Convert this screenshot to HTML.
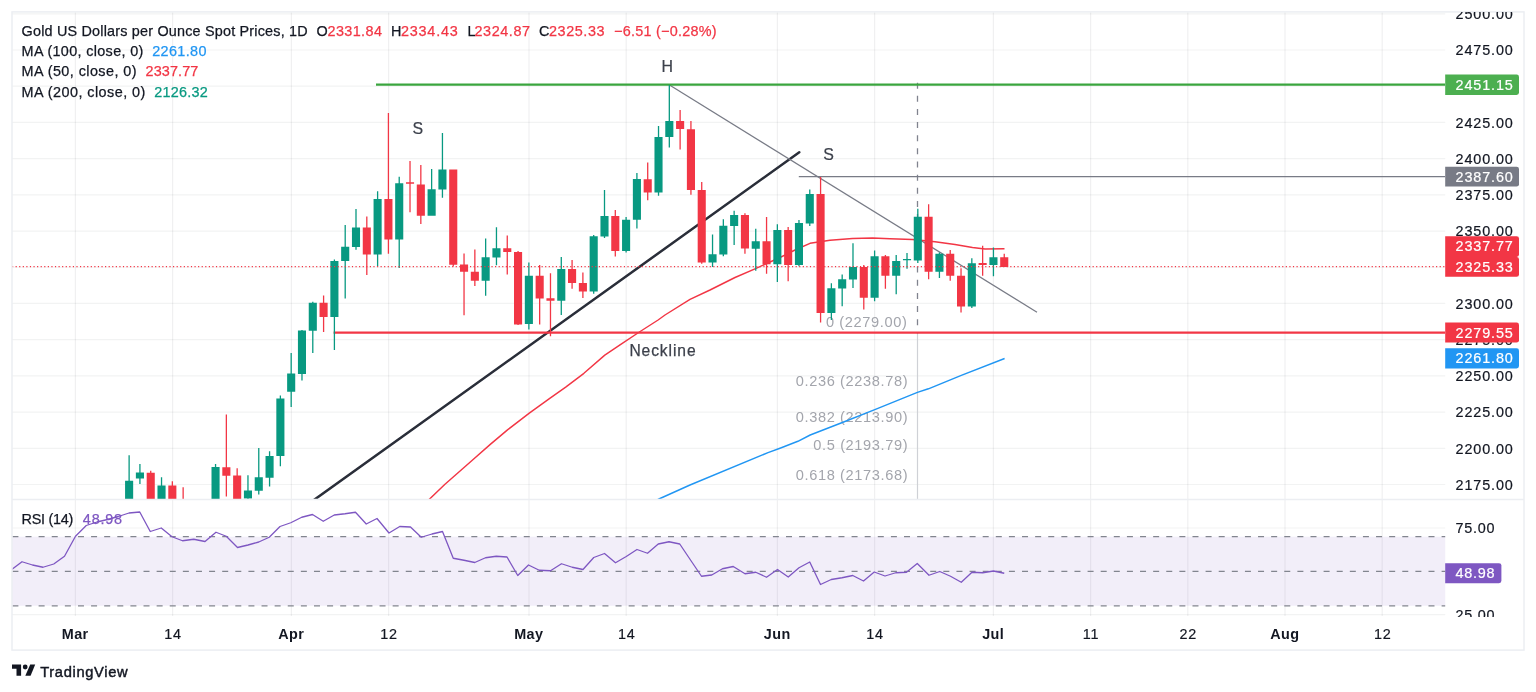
<!DOCTYPE html>
<html><head><meta charset="utf-8"><title>Gold chart</title>
<style>html,body{margin:0;padding:0;background:#fff;}svg{display:block;will-change:transform;}text{font-family:'Liberation Sans', sans-serif;}</style></head><body>
<svg width="1536" height="692" viewBox="0 0 1536 692">
<rect x="0" y="0" width="1536" height="692" fill="#ffffff"/>
<defs>
<clipPath id="cm"><rect x="12.00" y="11.90" width="1433.20" height="487.60"/></clipPath>
<clipPath id="cr"><rect x="12.00" y="499.50" width="1433.20" height="116.10"/></clipPath>
<clipPath id="cs"><rect x="1445.20" y="12.10" width="78.80" height="487.60"/></clipPath>
<clipPath id="cs2"><rect x="1445.20" y="499.50" width="78.80" height="117.50"/></clipPath>
</defs>
<path d="M75.40 11.90V615.90M172.60 11.90V615.90M291.40 11.90V615.90M388.60 11.90V615.90M529.00 11.90V615.90M626.20 11.90V615.90M777.40 11.90V615.90M874.60 11.90V615.90M993.40 11.90V615.90M1090.60 11.90V615.90M1187.80 11.90V615.90M1285.00 11.90V615.90M1382.20 11.90V615.90" stroke="#2a2e39" stroke-opacity="0.07" stroke-width="1.2" fill="none"/>
<path d="M12.00 484.49H1445.20M12.00 448.28H1445.20M12.00 412.07H1445.20M12.00 375.87H1445.20M12.00 339.66H1445.20M12.00 303.45H1445.20M12.00 267.25H1445.20M12.00 231.04H1445.20M12.00 194.83H1445.20M12.00 158.62H1445.20M12.00 122.41H1445.20M12.00 86.21H1445.20M12.00 50.00H1445.20M12.00 13.79H1445.20M12.00 528.00H1445.20M12.00 614.60H1445.20" stroke="#2a2e39" stroke-opacity="0.06" stroke-width="1.2" fill="none"/>
<rect x="12.00" y="536.70" width="1433.20" height="69.10" fill="#7e57c2" fill-opacity="0.1"/>
<path d="M12.40 536.70H1445.20" stroke="#82858f" stroke-width="1.3" stroke-dasharray="6 7.112" fill="none"/>
<path d="M12.40 571.30H1445.20" stroke="#82858f" stroke-width="1.3" stroke-dasharray="6 7.112" fill="none"/>
<path d="M12.40 605.80H1445.20" stroke="#82858f" stroke-width="1.3" stroke-dasharray="6 7.112" fill="none"/>
<g clip-path="url(#cm)">
<path d="M917.5 333V500" stroke="#cfd1d6" stroke-width="1.2" fill="none"/>
<path d="M917.5 82.65V333.6" stroke="#80838e" stroke-width="1.3" stroke-dasharray="6 7.14" fill="none"/>
<text x="907.40" y="327.40" font-size="14.6" fill="#a3a5ac" text-anchor="end" letter-spacing="0.62">0 (2279.00)</text>
<text x="908.20" y="385.50" font-size="14.6" fill="#a3a5ac" text-anchor="end" letter-spacing="0.62">0.236 (2238.78)</text>
<text x="908.20" y="421.70" font-size="14.6" fill="#a3a5ac" text-anchor="end" letter-spacing="0.62">0.382 (2213.90)</text>
<text x="908.20" y="450.40" font-size="14.6" fill="#a3a5ac" text-anchor="end" letter-spacing="0.62">0.5 (2193.79)</text>
<text x="908.20" y="479.50" font-size="14.6" fill="#a3a5ac" text-anchor="end" letter-spacing="0.62">0.618 (2173.68)</text>
<path d="M313.5 500.3L799.3 152.3" stroke="#2a2e39" stroke-width="2.5" stroke-linecap="round" fill="none"/>
<path d="M669.5 85L1037 312.3" stroke="#787b86" stroke-width="1.3" fill="none"/>
<path d="M376 84.6H1445.20" stroke="#3aa53e" stroke-width="2.4" fill="none"/>
<path d="M798.8 176.7H1445.20" stroke="#787b86" stroke-width="1.2" fill="none"/>
<path d="M333.6 332.6H1445.20" stroke="#f23645" stroke-width="2.4" fill="none"/>
<polyline points="655.00,501.00 660.00,498.50 690.00,485.00 768.00,452.60 780.00,448.20 797.90,441.30 810.20,435.00 843.00,422.30 874.80,409.70 917.40,392.40 928.40,388.80 961.30,375.40 1004.60,358.50" stroke="#2196f3" stroke-width="1.45" fill="none" stroke-linejoin="round"/>
<polyline points="425.00,503.50 429.10,499.50 444.70,484.50 472.00,460.50 490.30,444.40 507.20,430.10 529.30,413.20 550.10,398.10 565.70,387.10 583.90,373.30 604.80,355.10 620.40,344.70 638.60,332.50 658.10,320.00 665.00,315.00 690.00,299.30 710.00,290.00 735.00,277.50 755.00,268.80 780.00,257.50 795.00,250.00 810.00,243.30 830.00,240.30 852.50,238.50 872.50,238.00 890.00,238.70 912.50,239.50 935.00,241.80 955.00,244.50 972.50,247.50 985.00,249.00 1004.50,248.80" stroke="#f23645" stroke-width="1.45" fill="none" stroke-linejoin="round"/>
<path d="M125.07 480.75h8.10v29.25h-8.10zM128.47 455.25h1.30v54.75h-1.30zM135.87 472.50h8.10v6.00h-8.10zM139.27 464.00h1.30v20.00h-1.30zM157.48 485.50h8.10v24.50h-8.10zM160.88 477.25h1.30v32.75h-1.30zM211.50 467.00h8.10v43.00h-8.10zM214.90 464.00h1.30v46.00h-1.30zM243.91 490.50h8.10v8.00h-8.10zM247.31 475.25h1.30v34.75h-1.30zM254.72 477.25h8.10v13.50h-8.10zM258.12 448.00h1.30v46.50h-1.30zM265.52 456.00h8.10v21.75h-8.10zM268.92 451.25h1.30v35.25h-1.30zM276.33 398.50h8.10v57.50h-8.10zM279.73 395.50h1.30v70.75h-1.30zM287.13 373.50h8.10v18.25h-8.10zM290.53 353.00h1.30v54.00h-1.30zM297.93 330.50h8.10v43.50h-8.10zM301.33 330.00h1.30v50.50h-1.30zM308.74 302.75h8.10v28.00h-8.10zM312.14 301.75h1.30v51.25h-1.30zM330.35 261.00h8.10v56.00h-8.10zM333.75 259.50h1.30v90.50h-1.30zM341.15 246.75h8.10v14.25h-8.10zM344.55 225.00h1.30v73.50h-1.30zM351.95 227.50h8.10v19.50h-8.10zM355.35 209.00h1.30v40.75h-1.30zM373.56 199.00h8.10v55.50h-8.10zM376.96 191.25h1.30v75.00h-1.30zM395.17 183.25h8.10v56.25h-8.10zM398.57 176.75h1.30v91.25h-1.30zM427.58 189.25h8.10v26.50h-8.10zM430.98 169.00h1.30v46.75h-1.30zM438.39 169.50h8.10v20.00h-8.10zM441.79 133.00h1.30v64.75h-1.30zM481.60 257.25h8.10v23.50h-8.10zM485.00 238.50h1.30v57.25h-1.30zM492.41 248.25h8.10v9.25h-8.10zM495.81 227.25h1.30v38.00h-1.30zM524.82 275.75h8.10v48.25h-8.10zM528.22 262.50h1.30v67.00h-1.30zM557.23 269.00h8.10v31.75h-8.10zM560.63 257.00h1.30v58.00h-1.30zM589.64 236.25h8.10v55.25h-8.10zM593.04 235.00h1.30v58.75h-1.30zM600.45 216.00h8.10v20.50h-8.10zM603.85 190.00h1.30v48.00h-1.30zM622.05 219.75h8.10v31.25h-8.10zM625.45 217.00h1.30v35.50h-1.30zM632.86 179.00h8.10v40.75h-8.10zM636.26 173.00h1.30v55.50h-1.30zM654.47 137.00h8.10v55.50h-8.10zM657.87 126.00h1.30v69.75h-1.30zM665.27 121.00h8.10v16.00h-8.10zM668.67 85.00h1.30v62.50h-1.30zM708.49 254.25h8.10v8.25h-8.10zM711.89 234.50h1.30v32.50h-1.30zM719.29 225.75h8.10v28.75h-8.10zM722.69 219.25h1.30v37.00h-1.30zM730.09 215.00h8.10v11.00h-8.10zM733.49 210.75h1.30v34.25h-1.30zM751.70 241.25h8.10v7.50h-8.10zM755.10 228.75h1.30v42.00h-1.30zM773.31 230.00h8.10v34.25h-8.10zM776.71 224.25h1.30v57.75h-1.30zM794.92 223.00h8.10v42.00h-8.10zM798.32 220.00h1.30v46.25h-1.30zM805.72 194.00h8.10v29.50h-8.10zM809.12 189.50h1.30v36.50h-1.30zM827.33 288.25h8.10v24.75h-8.10zM830.73 283.25h1.30v36.75h-1.30zM838.13 279.25h8.10v9.25h-8.10zM841.53 274.50h1.30v31.75h-1.30zM848.94 267.00h8.10v12.50h-8.10zM852.34 243.25h1.30v44.75h-1.30zM870.55 256.25h8.10v41.50h-8.10zM873.95 250.50h1.30v50.75h-1.30zM892.15 261.00h8.10v14.75h-8.10zM895.55 255.00h1.30v39.25h-1.30zM902.96 259.00h8.10v1.25h-8.10zM906.36 253.00h1.30v15.75h-1.30zM913.76 216.75h8.10v43.75h-8.10zM917.16 208.75h1.30v54.25h-1.30zM935.37 253.75h8.10v18.00h-8.10zM938.77 252.50h1.30v25.50h-1.30zM967.78 263.25h8.10v43.25h-8.10zM971.18 258.25h1.30v49.75h-1.30zM989.39 257.25h8.10v7.75h-8.10zM992.79 247.50h1.30v28.75h-1.30z" fill="#089981"/>
<path d="M146.68 472.75h8.10v37.25h-8.10zM150.08 470.75h1.30v39.25h-1.30zM168.29 485.50h8.10v24.50h-8.10zM171.69 481.25h1.30v28.75h-1.30zM179.09 505.00h8.10v5.00h-8.10zM182.49 487.25h1.30v22.75h-1.30zM222.31 467.25h8.10v8.50h-8.10zM225.71 414.50h1.30v82.00h-1.30zM233.11 475.50h8.10v34.50h-8.10zM236.51 468.25h1.30v41.75h-1.30zM319.54 302.75h8.10v14.25h-8.10zM322.94 295.50h1.30v36.50h-1.30zM362.76 227.50h8.10v27.00h-8.10zM366.16 216.50h1.30v58.50h-1.30zM384.37 199.00h8.10v40.50h-8.10zM387.77 113.00h1.30v140.75h-1.30zM405.97 182.25h8.10v1.50h-8.10zM409.37 161.00h1.30v51.25h-1.30zM416.78 184.50h8.10v31.25h-8.10zM420.18 165.00h1.30v59.00h-1.30zM449.19 169.50h8.10v95.25h-8.10zM452.59 169.50h1.30v97.00h-1.30zM459.99 264.50h8.10v7.25h-8.10zM463.39 253.50h1.30v61.75h-1.30zM470.80 271.75h8.10v9.00h-8.10zM474.20 249.50h1.30v36.50h-1.30zM503.21 248.25h8.10v3.75h-8.10zM506.61 235.50h1.30v39.00h-1.30zM514.01 252.00h8.10v72.50h-8.10zM517.41 251.00h1.30v74.00h-1.30zM535.62 275.75h8.10v22.75h-8.10zM539.02 265.00h1.30v59.50h-1.30zM546.43 298.25h8.10v2.50h-8.10zM549.83 273.25h1.30v63.00h-1.30zM568.03 269.00h8.10v14.00h-8.10zM571.43 260.00h1.30v28.75h-1.30zM578.84 283.00h8.10v8.50h-8.10zM582.24 272.50h1.30v25.50h-1.30zM611.25 216.00h8.10v35.00h-8.10zM614.65 210.00h1.30v46.50h-1.30zM643.66 179.25h8.10v13.25h-8.10zM647.06 162.50h1.30v37.75h-1.30zM676.07 121.00h8.10v8.00h-8.10zM679.47 110.00h1.30v39.50h-1.30zM686.88 129.25h8.10v60.75h-8.10zM690.28 121.00h1.30v73.75h-1.30zM697.68 190.00h8.10v72.50h-8.10zM701.08 182.00h1.30v81.75h-1.30zM740.90 215.00h8.10v33.50h-8.10zM744.30 213.25h1.30v40.50h-1.30zM762.51 241.25h8.10v23.00h-8.10zM765.91 217.00h1.30v56.75h-1.30zM784.11 230.00h8.10v35.00h-8.10zM787.51 227.00h1.30v54.25h-1.30zM816.53 194.00h8.10v119.00h-8.10zM819.93 177.00h1.30v145.50h-1.30zM859.74 267.00h8.10v30.75h-8.10zM863.14 265.00h1.30v44.50h-1.30zM881.35 256.25h8.10v19.50h-8.10zM884.75 255.00h1.30v33.75h-1.30zM924.57 216.75h8.10v55.00h-8.10zM927.97 204.25h1.30v75.00h-1.30zM946.17 253.75h8.10v22.00h-8.10zM949.57 250.00h1.30v30.75h-1.30zM956.98 275.75h8.10v30.75h-8.10zM960.38 268.25h1.30v44.25h-1.30zM978.59 263.00h8.10v2.00h-8.10zM981.99 245.75h1.30v30.00h-1.30zM1000.19 257.25h8.10v9.75h-8.10zM1003.59 253.75h1.30v13.25h-1.30z" fill="#f23645"/>
<path d="M12.00 266.6H1445.20" stroke="#f23645" stroke-width="1.2" stroke-dasharray="1.19 2.388" fill="none"/>
<text x="417.8" y="133.9" font-size="15.9" fill="#3c404b" stroke="#3c404b" stroke-width="0.2" text-anchor="middle">S</text>
<text x="667.3" y="72.1" font-size="15.9" fill="#3c404b" stroke="#3c404b" stroke-width="0.2" text-anchor="middle">H</text>
<text x="828.6" y="159.8" font-size="15.9" fill="#3c404b" stroke="#3c404b" stroke-width="0.2" text-anchor="middle">S</text>
<text x="629.4" y="355.7" font-size="15.6" fill="#3c404b" stroke="#3c404b" stroke-width="0.25" textLength="66.2" lengthAdjust="spacing">Neckline</text>
</g>
<polyline clip-path="url(#cr)" points="11.75,569.50 22.00,561.75 32.50,565.00 43.00,567.25 53.75,564.00 64.50,556.25 75.50,536.25 86.25,525.50 97.00,522.00 107.50,519.50 118.25,516.50 129.00,513.00 139.75,512.00 150.25,531.50 161.25,528.00 172.00,536.75 182.50,540.75 193.75,539.25 205.00,541.50 216.00,532.25 226.25,536.25 237.50,547.50 248.00,545.00 258.75,542.00 269.25,537.25 280.00,526.50 290.75,522.75 301.75,517.25 312.50,514.50 323.25,521.25 334.25,515.00 345.00,513.75 355.50,512.25 366.25,524.00 377.00,518.50 389.00,533.00 399.75,526.50 410.50,527.00 421.25,537.25 432.00,534.00 442.50,531.50 453.25,558.25 464.00,560.25 474.75,562.50 485.50,557.75 496.25,556.25 507.00,557.00 517.75,575.50 528.50,565.00 539.25,570.25 550.50,570.75 561.50,563.75 572.25,567.25 583.00,569.50 593.75,557.50 604.50,553.50 615.50,562.75 626.25,556.50 637.00,549.50 647.50,553.25 658.25,544.00 669.00,541.75 679.75,544.00 690.50,560.00 701.50,576.25 711.75,575.00 722.50,568.75 733.25,566.50 745.00,573.75 755.75,572.25 766.50,577.25 777.50,569.50 788.25,577.00 799.00,567.75 809.75,562.00 820.50,584.50 831.25,579.50 842.00,577.75 852.75,575.50 863.50,581.00 874.25,572.00 885.00,576.00 895.75,572.75 906.50,572.25 917.25,563.50 929.00,575.25 939.75,571.50 950.50,576.25 961.25,582.25 972.00,572.25 982.75,572.75 993.50,571.00 1004.25,573.25" stroke="#7e57c2" stroke-width="1.3" fill="none" stroke-linejoin="round"/>
<path d="M12.00 499.50H1524.00" stroke="#eceef2" stroke-width="1.4" fill="none"/>
<rect x="12.00" y="11.90" width="1512.00" height="638.20" fill="none" stroke="#eceef2" stroke-width="1.5"/>
<g clip-path="url(#cs)">
<text x="1455.6" y="489.79" font-size="14.4" fill="#131722" stroke="#131722" stroke-width="0.2" textLength="57.2" lengthAdjust="spacing">2175.00</text>
<text x="1455.6" y="453.58" font-size="14.4" fill="#131722" stroke="#131722" stroke-width="0.2" textLength="57.2" lengthAdjust="spacing">2200.00</text>
<text x="1455.6" y="417.38" font-size="14.4" fill="#131722" stroke="#131722" stroke-width="0.2" textLength="57.2" lengthAdjust="spacing">2225.00</text>
<text x="1455.6" y="381.17" font-size="14.4" fill="#131722" stroke="#131722" stroke-width="0.2" textLength="57.2" lengthAdjust="spacing">2250.00</text>
<text x="1455.6" y="344.96" font-size="14.4" fill="#131722" stroke="#131722" stroke-width="0.2" textLength="57.2" lengthAdjust="spacing">2275.00</text>
<text x="1455.6" y="308.75" font-size="14.4" fill="#131722" stroke="#131722" stroke-width="0.2" textLength="57.2" lengthAdjust="spacing">2300.00</text>
<text x="1455.6" y="272.55" font-size="14.4" fill="#131722" stroke="#131722" stroke-width="0.2" textLength="57.2" lengthAdjust="spacing">2325.00</text>
<text x="1455.6" y="236.34" font-size="14.4" fill="#131722" stroke="#131722" stroke-width="0.2" textLength="57.2" lengthAdjust="spacing">2350.00</text>
<text x="1455.6" y="200.13" font-size="14.4" fill="#131722" stroke="#131722" stroke-width="0.2" textLength="57.2" lengthAdjust="spacing">2375.00</text>
<text x="1455.6" y="163.92" font-size="14.4" fill="#131722" stroke="#131722" stroke-width="0.2" textLength="57.2" lengthAdjust="spacing">2400.00</text>
<text x="1455.6" y="127.71" font-size="14.4" fill="#131722" stroke="#131722" stroke-width="0.2" textLength="57.2" lengthAdjust="spacing">2425.00</text>
<text x="1455.6" y="91.51" font-size="14.4" fill="#131722" stroke="#131722" stroke-width="0.2" textLength="57.2" lengthAdjust="spacing">2450.00</text>
<text x="1455.6" y="55.30" font-size="14.4" fill="#131722" stroke="#131722" stroke-width="0.2" textLength="57.2" lengthAdjust="spacing">2475.00</text>
<text x="1455.6" y="19.09" font-size="14.4" fill="#131722" stroke="#131722" stroke-width="0.2" textLength="57.2" lengthAdjust="spacing">2500.00</text>
</g>
<g clip-path="url(#cs2)">
<text x="1455.6" y="533.30" font-size="14.4" fill="#131722" stroke="#131722" stroke-width="0.2" textLength="39" lengthAdjust="spacing">75.00</text>
<text x="1455.6" y="619.90" font-size="14.4" fill="#131722" stroke="#131722" stroke-width="0.2" textLength="39" lengthAdjust="spacing">25.00</text>
</g>
<path d="M1445.20 74.50H1516.60Q1519.00 74.50 1519.00 76.90V92.60Q1519.00 95.00 1516.60 95.00H1445.20z" fill="#4caf50"/>
<text x="1455.6" y="89.70" font-size="14.4" fill="#ffffff" stroke="#ffffff" stroke-width="0.2" textLength="57.2" lengthAdjust="spacing">2451.15</text>
<path d="M1445.20 166.70H1516.60Q1519.00 166.70 1519.00 169.10V184.20Q1519.00 186.60 1516.60 186.60H1445.20z" fill="#787b86"/>
<text x="1455.6" y="181.60" font-size="14.4" fill="#ffffff" stroke="#ffffff" stroke-width="0.2" textLength="57.2" lengthAdjust="spacing">2387.60</text>
<path d="M1445.20 236.20H1516.60Q1519.00 236.20 1519.00 238.60V254.60Q1519.00 257.00 1516.60 257.00H1445.20z" fill="#f23645"/>
<text x="1455.6" y="251.35" font-size="14.4" fill="#ffffff" stroke="#ffffff" stroke-width="0.2" textLength="57.2" lengthAdjust="spacing">2337.77</text>
<path d="M1445.20 257.00H1516.60Q1519.00 257.00 1519.00 259.40V274.40Q1519.00 276.80 1516.60 276.80H1445.20z" fill="#f23645"/>
<text x="1455.6" y="271.85" font-size="14.4" fill="#ffffff" stroke="#ffffff" stroke-width="0.2" textLength="57.2" lengthAdjust="spacing">2325.33</text>
<path d="M1445.20 322.50H1516.60Q1519.00 322.50 1519.00 324.90V340.20Q1519.00 342.60 1516.60 342.60H1445.20z" fill="#f23645"/>
<text x="1455.6" y="337.50" font-size="14.4" fill="#ffffff" stroke="#ffffff" stroke-width="0.2" textLength="57.2" lengthAdjust="spacing">2279.55</text>
<path d="M1445.20 348.30H1516.60Q1519.00 348.30 1519.00 350.70V366.00Q1519.00 368.40 1516.60 368.40H1445.20z" fill="#2196f3"/>
<text x="1455.6" y="363.30" font-size="14.4" fill="#ffffff" stroke="#ffffff" stroke-width="0.2" textLength="57.2" lengthAdjust="spacing">2261.80</text>
<path d="M1445.20 563.20H1499.00Q1501.40 563.20 1501.40 565.60V580.80Q1501.40 583.20 1499.00 583.20H1445.20z" fill="#7e57c2"/>
<text x="1455.6" y="577.55" font-size="14.4" fill="#ffffff" stroke="#ffffff" stroke-width="0.2" textLength="39.0" lengthAdjust="spacing">48.98</text>
<text x="75.20" y="639.4" font-size="14.4" fill="#131722" text-anchor="middle" font-weight="bold" letter-spacing="0.4">Mar</text>
<text x="173.10" y="639.4" font-size="14.4" fill="#131722" text-anchor="middle" stroke="#131722" stroke-width="0.2" letter-spacing="0.8">14</text>
<text x="291.20" y="639.4" font-size="14.4" fill="#131722" text-anchor="middle" font-weight="bold" letter-spacing="0.4">Apr</text>
<text x="389.10" y="639.4" font-size="14.4" fill="#131722" text-anchor="middle" stroke="#131722" stroke-width="0.2" letter-spacing="0.8">12</text>
<text x="528.80" y="639.4" font-size="14.4" fill="#131722" text-anchor="middle" font-weight="bold" letter-spacing="0.4">May</text>
<text x="626.70" y="639.4" font-size="14.4" fill="#131722" text-anchor="middle" stroke="#131722" stroke-width="0.2" letter-spacing="0.8">14</text>
<text x="777.20" y="639.4" font-size="14.4" fill="#131722" text-anchor="middle" font-weight="bold" letter-spacing="0.4">Jun</text>
<text x="875.10" y="639.4" font-size="14.4" fill="#131722" text-anchor="middle" stroke="#131722" stroke-width="0.2" letter-spacing="0.8">14</text>
<text x="993.20" y="639.4" font-size="14.4" fill="#131722" text-anchor="middle" font-weight="bold" letter-spacing="0.4">Jul</text>
<text x="1091.10" y="639.4" font-size="14.4" fill="#131722" text-anchor="middle" stroke="#131722" stroke-width="0.2" letter-spacing="0.8">11</text>
<text x="1188.30" y="639.4" font-size="14.4" fill="#131722" text-anchor="middle" stroke="#131722" stroke-width="0.2" letter-spacing="0.8">22</text>
<text x="1284.80" y="639.4" font-size="14.4" fill="#131722" text-anchor="middle" font-weight="bold" letter-spacing="0.4">Aug</text>
<text x="1382.70" y="639.4" font-size="14.4" fill="#131722" text-anchor="middle" stroke="#131722" stroke-width="0.2" letter-spacing="0.8">12</text>
<text x="21.60" y="36.10" font-size="14.4" fill="#131722" stroke="#131722" stroke-width="0.25" textLength="286.0" lengthAdjust="spacing">Gold US Dollars per Ounce Spot Prices, 1D</text>
<text x="316.40" y="36.10" font-size="14.4" fill="#131722" stroke="#131722" stroke-width="0.25" textLength="10.4" lengthAdjust="spacing">O</text>
<text x="327.50" y="36.10" font-size="14.4" fill="#f23645" stroke="#f23645" stroke-width="0.25" textLength="54.4" lengthAdjust="spacing">2331.84</text>
<text x="390.90" y="36.10" font-size="14.4" fill="#131722" stroke="#131722" stroke-width="0.25" textLength="9.2" lengthAdjust="spacing">H</text>
<text x="400.90" y="36.10" font-size="14.4" fill="#f23645" stroke="#f23645" stroke-width="0.25" textLength="56.9" lengthAdjust="spacing">2334.43</text>
<text x="467.40" y="36.10" font-size="14.4" fill="#131722" stroke="#131722" stroke-width="0.25" textLength="6.4" lengthAdjust="spacing">L</text>
<text x="474.50" y="36.10" font-size="14.4" fill="#f23645" stroke="#f23645" stroke-width="0.25" textLength="55.5" lengthAdjust="spacing">2324.87</text>
<text x="539.00" y="36.10" font-size="14.4" fill="#131722" stroke="#131722" stroke-width="0.25" textLength="9.4" lengthAdjust="spacing">C</text>
<text x="549.00" y="36.10" font-size="14.4" fill="#f23645" stroke="#f23645" stroke-width="0.25" textLength="55.5" lengthAdjust="spacing">2325.33</text>
<text x="614.00" y="36.10" font-size="14.4" fill="#f23645" stroke="#f23645" stroke-width="0.25" textLength="102.5" lengthAdjust="spacing">−6.51 (−0.28%)</text>
<text x="21.60" y="56.20" font-size="14.4" fill="#131722" stroke="#131722" stroke-width="0.25" textLength="121.7" lengthAdjust="spacing">MA (100, close, 0)</text>
<text x="152.20" y="56.20" font-size="14.4" fill="#2196f3" stroke="#2196f3" stroke-width="0.25" textLength="54.3" lengthAdjust="spacing">2261.80</text>
<text x="21.60" y="76.30" font-size="14.4" fill="#131722" stroke="#131722" stroke-width="0.25" textLength="114.9" lengthAdjust="spacing">MA (50, close, 0)</text>
<text x="145.50" y="76.30" font-size="14.4" fill="#f23645" stroke="#f23645" stroke-width="0.25" textLength="52.8" lengthAdjust="spacing">2337.77</text>
<text x="21.60" y="96.50" font-size="14.4" fill="#131722" stroke="#131722" stroke-width="0.25" textLength="123.7" lengthAdjust="spacing">MA (200, close, 0)</text>
<text x="154.20" y="96.50" font-size="14.4" fill="#089981" stroke="#089981" stroke-width="0.25" textLength="53.6" lengthAdjust="spacing">2126.32</text>
<text x="21.60" y="523.70" font-size="14.4" fill="#131722" stroke="#131722" stroke-width="0.25" textLength="51.7" lengthAdjust="spacing">RSI (14)</text>
<text x="82.80" y="523.70" font-size="14.4" fill="#7e57c2" stroke="#7e57c2" stroke-width="0.25" textLength="39.3" lengthAdjust="spacing">48.98</text>
<g fill="#131722">
<path d="M12 664.6H21.1V675.7H16.5V668.8H12z"/>
<circle cx="25.2" cy="667.0" r="2.4"/>
<path d="M30.2 664.6H35.2L30.6 675.7H25.3z"/>
<text x="40.2" y="676.6" font-size="14.7" stroke="#131722" stroke-width="0.45" textLength="87.4" lengthAdjust="spacing">TradingView</text>
</g>
</svg></body></html>
